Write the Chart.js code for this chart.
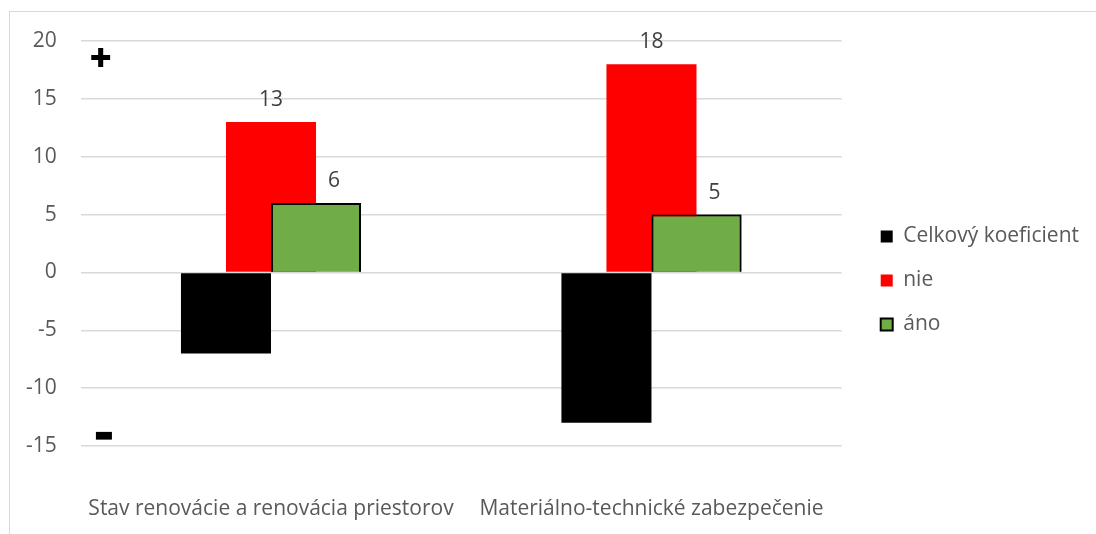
<!DOCTYPE html>
<html>
<head>
<meta charset="utf-8">
<script src="https://cdn.jsdelivr.net/npm/chart.js@4"></script>
<style>
    html, body { margin: 0; padding: 0; background: #fff; }
    #wrap { position: relative; width: 1096px; height: 534px; overflow: hidden; }
    #frame { position: absolute; left: 9px; top: 11px; width: 1200px; height: 600px;
             border-top: 1px solid #d9d9d9; border-left: 1px solid #d9d9d9; }
    #chart { position: absolute; left: 0; top: 0; }
    .sign { position: absolute; font-family: "DejaVu Sans"; color: #000; line-height: 1; }
</style>
</head>
<body>
<div id="wrap">
    <div id="frame"></div>
    <canvas id="chart" width="1096" height="534"></canvas>
    <span class="sign" style="left:90px; top:45px; font-size:26px;">✚</span>
    <span class="sign" style="left:94px; top:424px; font-size:21px;">▬</span>
</div>
<script>
// chart data
const categories = ['Stav renovácie a renovácia priestorov', 'Materiálno-technické zabezpečenie'];
const celkovyKoeficient = [-7, -13];
const nie = [13, 18];
const ano = [6, 5];

const textColor = '#595959';
const gridColor = '#d9d9d9';
const fontFamily = '"Open Sans", Lato, sans-serif';
const fontSize = 21;

// Excel draws the last series on top; Chart.js does the reverse, so paint 'áno' again
const drawOnTop = {
    id: 'drawOnTop',
    afterDatasetsDraw(chart) {
        const meta = chart.getDatasetMeta(2);
        if (meta.visible) meta.controller.draw();
    }
};

// value labels above the 'nie' and 'áno' bars
const valueLabels = {
    id: 'valueLabels',
    afterDatasetsDraw(chart) {
        const ctx = chart.ctx;
        ctx.save();
        ctx.font = fontSize + 'px ' + fontFamily;
        ctx.fillStyle = '#404040';
        ctx.textAlign = 'center';
        ctx.textBaseline = 'middle';
        chart.data.datasets.forEach((ds, i) => {
            if (!ds.showValues) return;
            const meta = chart.getDatasetMeta(i);
            meta.data.forEach((bar, j) => {
                ctx.fillText(ds.data[j], bar.x + (ds.labelShift || 0), bar.y - 22);
            });
        });
        ctx.restore();
    }
};

new Chart(document.getElementById('chart'), {
    type: 'bar',
    data: {
        labels: categories,
        datasets: [{
            label: 'Celkový koeficient',
            data: celkovyKoeficient,
            backgroundColor: '#000000',
            borderWidth: 0
        }, {
            label: 'nie',
            data: nie,
            backgroundColor: '#ff0000',
            borderWidth: 0,
            showValues: true
        }, {
            label: 'áno',
            data: ano,
            backgroundColor: '#70ad47',
            borderColor: '#000000',
            borderWidth: 2,
            showValues: true,
            labelShift: 18
        }]
    },
    options: {
        responsive: false,
        animation: false,
        categoryPercentage: 0.355,
        barPercentage: 2,
        layout: { padding: { left: 2, top: 41, right: 7, bottom: 14 } },
        plugins: {
            tooltip: { enabled: false },
            legend: {
                position: 'right',
                maxWidth: 300,
                labels: {
                    color: textColor,
                    boxWidth: 12,
                    boxHeight: 12,
                    padding: 23,
                    font: { family: fontFamily, size: fontSize }
                }
            }
        },
        scales: {
            x: {
                grid: { display: false },
                border: { display: false },
                ticks: {
                    color: textColor, padding: 42, maxRotation: 0, minRotation: 0, autoSkip: false,
                    font: { family: fontFamily, size: fontSize }
                },
                afterFit: (scale) => {
                    scale.height = 74;
                    // labels fit inside their categories, no side padding needed
                    scale.paddingLeft = 0;
                    scale.paddingRight = 0;
                }
            },
            y: {
                min: -15,
                max: 20,
                ticks: { stepSize: 5, color: textColor, padding: 24, font: { family: fontFamily, size: fontSize } },
                grid: { color: gridColor, lineWidth: 1.5, drawTicks: false },
                border: { display: false }
            },
            // empty spacer between plot and legend
            gap: {
                axis: 'y',
                position: 'right',
                grid: { display: false },
                border: { display: false },
                ticks: { display: false },
                afterFit: (scale) => { scale.width = 16; }
            }
        }
    },
    plugins: [drawOnTop, valueLabels]
});
</script>
</body>
</html>
